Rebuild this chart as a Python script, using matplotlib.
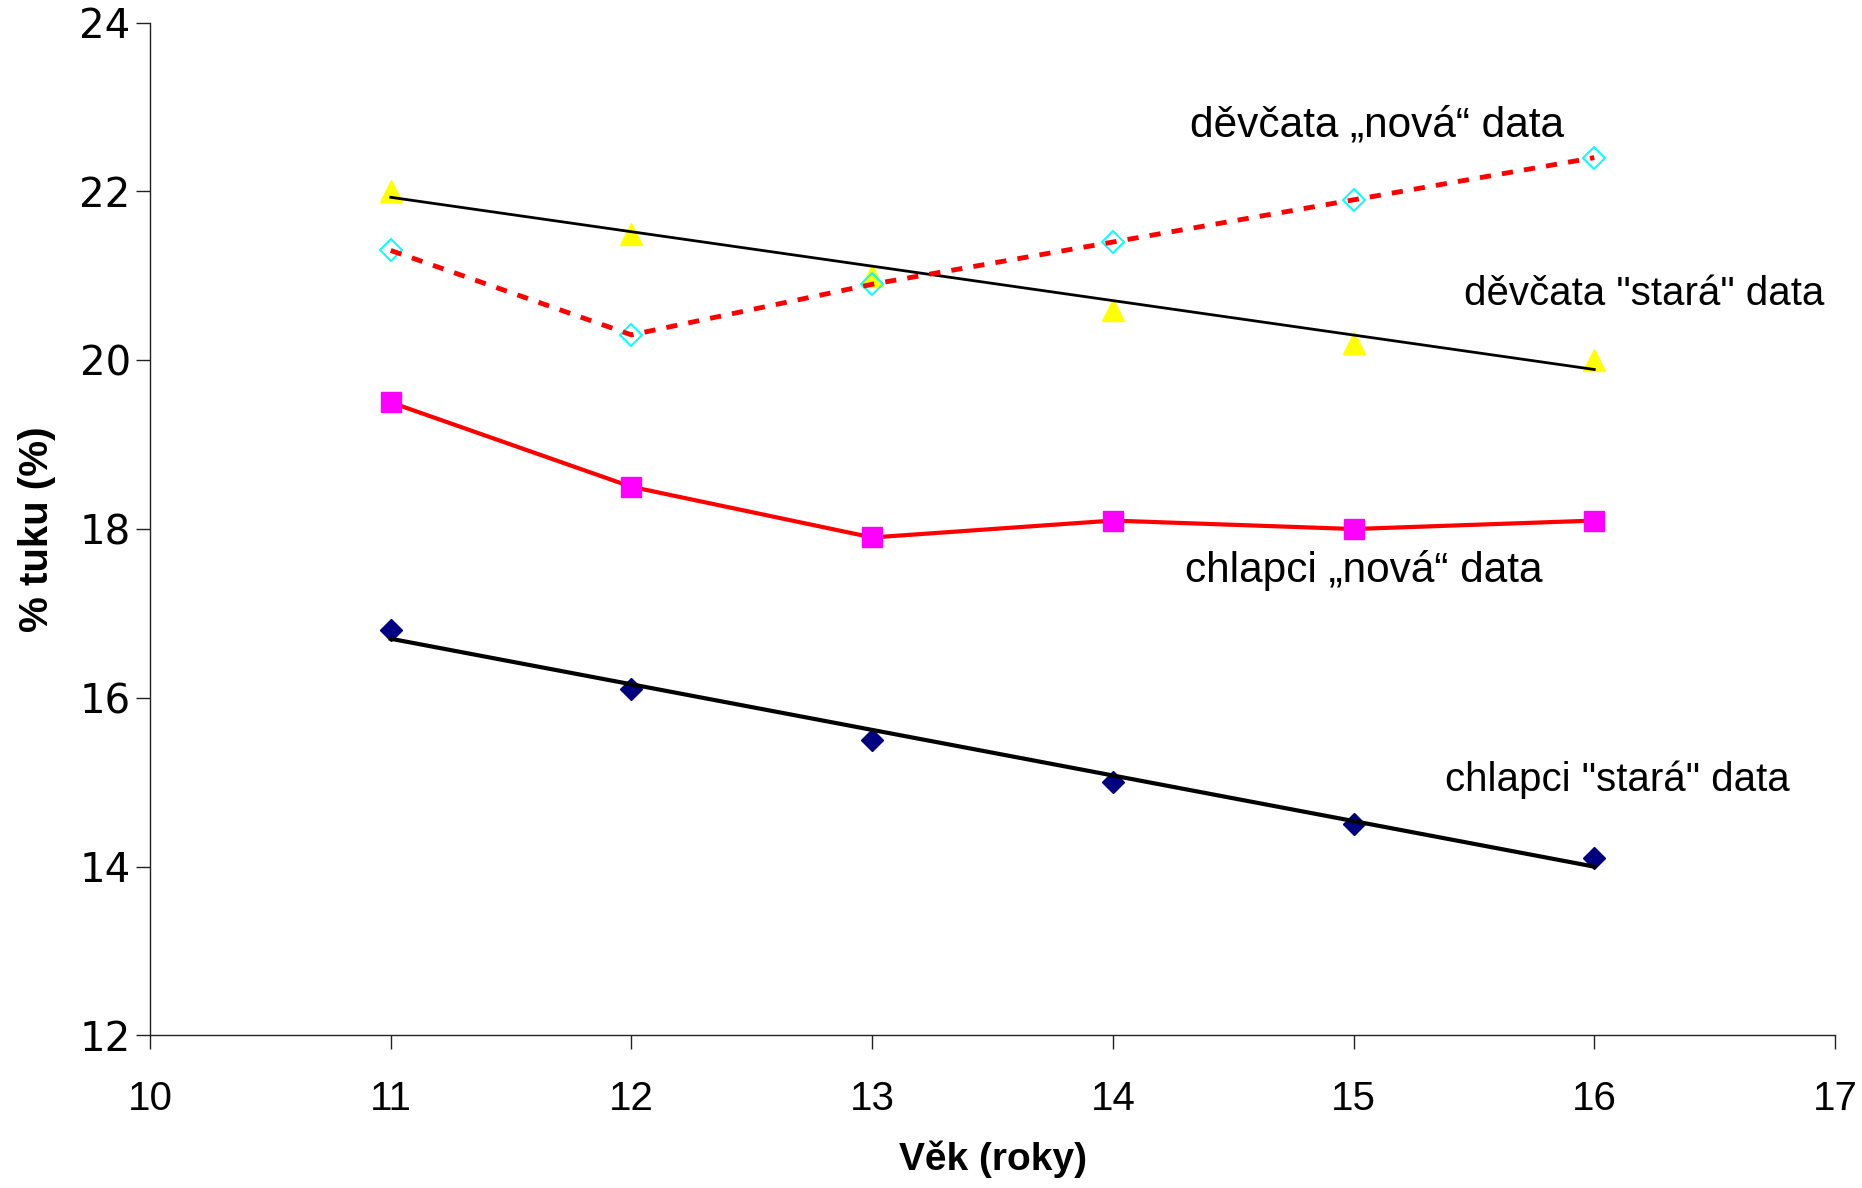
import matplotlib
matplotlib.use("Agg")
import matplotlib.pyplot as plt

plt.rcParams["font.family"] = ["Liberation Sans", "DejaVu Sans"]

# data
age = [11, 12, 13, 14, 15, 16]
girls_new = [21.3, 20.3, 20.9, 21.4, 21.9, 22.4]
girls_old = [22.0, 21.5, 21.0, 20.6, 20.2, 20.0]
boys_new = [19.5, 18.5, 17.9, 18.1, 18.0, 18.1]
boys_old = [16.8, 16.1, 15.5, 15.0, 14.5, 14.1]

trend_x = [11, 16]
girls_old_trend = [21.93, 19.89]
boys_old_trend = [16.70, 14.00]

label_texts = [
    "děvčata „nová“ data",
    "děvčata \"stará\" data",
    "chlapci „nová“ data",
    "chlapci \"stará\" data",
]
# placement (data coords, left/baseline) and font size of each label
label_pos = [(14.32, 22.65), (15.46, 20.65), (14.30, 17.37), (15.38, 14.90)]
label_size = [30.5, 29, 30.5, 29]

fig = plt.figure(figsize=(18.62, 11.88), dpi=100)
ax = fig.add_subplot(111)
fig.subplots_adjust(left=0.0806, right=0.9855, top=0.981, bottom=0.1284)

# girls, old data: triangles + black trend
ax.plot(age, girls_old, linestyle="none", marker="^", ms=16,
        color="#ffff00", mec="#ffff00", zorder=3)
ax.plot(trend_x, girls_old_trend, color="black", lw=2.0, zorder=4)

# girls, new data: hollow cyan diamonds + red dashed line
ax.plot(age, girls_new, linestyle="none", marker="D", ms=11,
        mfc="none", mec="#00ffff", mew=1.4, zorder=5)
ax.plot(age, girls_new, color="#ff0000", lw=3.5, dashes=(2.3, 2.3),
        dash_capstyle="butt", zorder=6)

# boys, new data: red line + magenta squares
ax.plot(age, boys_new, color="#ff0000", lw=3, zorder=3)
ax.plot(age, boys_new, linestyle="none", marker="s", ms=15,
        color="#ff00ff", mec="#ff00ff", zorder=4)

# boys, old data: navy diamonds + black trend
ax.plot(age, boys_old, linestyle="none", marker="D", ms=11,
        color="#000080", mec="#000080", zorder=3)
ax.plot(trend_x, boys_old_trend, color="black", lw=3, zorder=4)

for txt, (x, y), fs in zip(label_texts, label_pos, label_size):
    ax.text(x, y, txt, fontsize=fs, ha="left", va="baseline")

ax.set_xlim(10, 17)
ax.set_ylim(12, 24)
ax.set_xticks(range(10, 18))
ax.set_yticks(range(12, 25, 2))

for s in ["top", "right"]:
    ax.spines[s].set_visible(False)
for s in ["left", "bottom"]:
    ax.spines[s].set_linewidth(1.0)
    ax.spines[s].set_color("#222222")

ax.tick_params(axis="both", direction="out", length=10, width=1.0,
               color="#222222")
ax.tick_params(axis="x", pad=22, labelsize=29)
ax.tick_params(axis="y", pad=4)
for lbl in ax.get_yticklabels():
    lbl.set_family(["DejaVu Sans"])
    lbl.set_fontsize(29)

ax.set_xlabel("Věk (roky)", fontsize=28, fontweight="bold", labelpad=16)
ax.set_ylabel("% tuku (%)", fontsize=29, fontweight="bold", labelpad=17)

fig.savefig("out.png", dpi=100)
